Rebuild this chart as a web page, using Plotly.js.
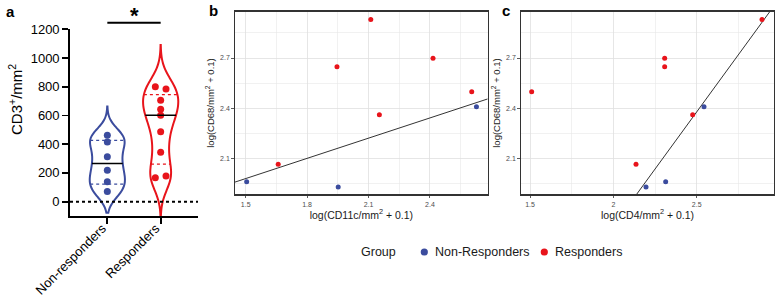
<!DOCTYPE html>
<html>
<head>
<meta charset="utf-8">
<script src="https://cdn.plot.ly/plotly-3.0.1.min.js"></script>
<style>html,body{margin:0;padding:0;background:#fff;}#chart{width:775px;height:299px;}</style>
</head>
<body>
<div id="chart"></div>
<script>
// ---------- DATA ----------
const groupCats = ['Non-responders', 'Responders'];
const nrCD3 = [462, 415, 313, 218, 139, 70];
const rCD3 = [800, 784, 706, 643, 601, 487, 344, 179, 167];
const nrJitter = [0, 0, 0, 0, 0, 0];
const rJitter = [-0.1, 0.1, 0, 0, 0, 0, 0, 0.1, -0.1];
const nrBandwidth = 70, rBandwidth = 100;
const nrSpan = [-77, 662], rSpan = [-150, 1090];
const sigLabel = '*';
const yTitleA = 'CD3<sup>+</sup>/mm<sup>2</sup>';

const legendNames = ['Non-Responders', 'Responders'];
const rCD11c = [2.111, 2.415, 1.946, 2.604, 2.153, 1.659];
const rCD4 = [2.892, 2.308, 2.308, 1.510, 2.476, 2.136];
const rCD68 = [2.931, 2.698, 2.648, 2.499, 2.360, 2.064];
const nrCD11c = [2.627, 1.505, 1.952];
const nrCD4 = [2.544, 2.314, 2.196];
const nrCD68 = [2.408, 1.960, 1.928];
const fitB = {slope: 0.403, intercept: 1.3745};
const fitC = {slope: 1.367, intercept: -1.040};

// ---------- STYLE ----------
const W = 775, H = 299;
const px = x => x / W, py = y => 1 - y / H;
const BLUE = '#3B4C9E', RED = '#E8141B';
const FONT = 'Liberation Sans, Arial, sans-serif';
const NARROW = 'Liberation Sans Narrow, Liberation Sans, Arial, sans-serif';
const violinWidth = 0.66;

function quartiles(v) {
  const s = v.slice().sort((a, b) => a - b), n = s.length;
  const q = p => { const pos = p * (n + 1) - 1; const lo = Math.floor(pos), f = pos - lo;
    return lo + 1 < n ? s[lo] + f * (s[lo + 1] - s[lo]) : s[lo]; };
  return [q(0.25), q(0.5), q(0.75)];
}
function kde(v, bw) { return y => v.reduce((a, xi) => a + Math.exp(-0.5 * Math.pow((y - xi) / bw, 2)), 0); }
function halfWidthAt(v, bw, span, y) {
  const d = kde(v, bw); let mx = 0;
  for (let i = 0; i <= 400; i++) { mx = Math.max(mx, d(span[0] + (span[1] - span[0]) * i / 400)); }
  return violinWidth / 2 * d(y) / mx;
}

const traces = [];
const shapes = [];
[[nrCD3, BLUE, 0, nrBandwidth, nrSpan, nrJitter], [rCD3, RED, 1, rBandwidth, rSpan, rJitter]].forEach(([vals, col, pos, bw, span, jit]) => {
  traces.push({type: 'violin', y: vals, x0: pos, xaxis: 'x', yaxis: 'y', bandwidth: bw,
    spanmode: 'manual', span: span, width: violinWidth, scalemode: 'width', points: false,
    line: {color: col, width: 2}, fillcolor: 'rgba(0,0,0,0)', box: {visible: false},
    meanline: {visible: false}, showlegend: false, hoverinfo: 'skip'});
  traces.push({type: 'scatter', mode: 'markers', x: vals.map((v, i) => pos + jit[i]), y: vals,
    xaxis: 'x', yaxis: 'y', marker: {color: col, size: 7}, showlegend: false, hoverinfo: 'skip'});
  const qs = quartiles(vals);
  qs.forEach((q, k) => {
    const hw = halfWidthAt(vals, bw, span, q);
    shapes.push({type: 'line', xref: 'x', yref: 'y', x0: pos - hw, x1: pos + hw, y0: q, y1: q,
      line: k === 1 ? {color: '#000', width: 1.5} : {color: col, width: 1.2, dash: 'dot'}});
  });
});
// zero line
shapes.push({type: 'line', xref: 'x domain', yref: 'y', x0: 0, x1: 1, y0: 0, y1: 0,
  line: {color: '#000', width: 2, dash: 'dot'}});
// significance bar
shapes.push({type: 'line', xref: 'x', yref: 'paper', x0: 0, x1: 1, y0: py(22.7), y1: py(22.7),
  line: {color: '#000', width: 2}});

// scatter panels
const scatterPanels = [
  {xa: 'x2', ya: 'y2', rx: rCD11c, nx: nrCD11c, fit: fitB},
  {xa: 'x3', ya: 'y3', rx: rCD4, nx: nrCD4, fit: fitC}
];
const xRanges = {x2: [1.448, 2.682], x3: [1.446, 2.964]};
scatterPanels.forEach(p => {
  const xr = xRanges[p.xa];
  traces.push({type: 'scatter', mode: 'lines', x: xr, y: xr.map(x => p.fit.intercept + p.fit.slope * x),
    xaxis: p.xa, yaxis: p.ya, line: {color: '#333', width: 1}, showlegend: false, hoverinfo: 'skip'});
  traces.push({type: 'scatter', mode: 'markers', x: p.nx, y: nrCD68, xaxis: p.xa, yaxis: p.ya,
    marker: {color: BLUE, size: 5}, showlegend: false, hoverinfo: 'skip'});
  traces.push({type: 'scatter', mode: 'markers', x: p.rx, y: rCD68, xaxis: p.xa, yaxis: p.ya,
    marker: {color: RED, size: 5}, showlegend: false, hoverinfo: 'skip'});
});

// manual legend markers
[[424.3, BLUE], [544.3, RED]].forEach(([cx, col]) => {
  shapes.push({type: 'circle', xref: 'paper', yref: 'paper', xsizemode: 'pixel', ysizemode: 'pixel',
    xanchor: px(cx), yanchor: py(252), x0: -3.6, x1: 3.6, y0: -3.6, y1: 3.6,
    fillcolor: col, line: {width: 0}});
});

const scatAxisX = (dom, range, tick0, dtick, title) => ({
  domain: dom, range: range, tick0: tick0, dtick: dtick, showline: true, mirror: true,
  linecolor: '#333', linewidth: 1.3, ticks: 'outside', ticklen: 2.5, tickwidth: 0.8, tickcolor: '#333',
  tickfont: {size: 7, color: '#4d4d4d', family: FONT}, showgrid: true, gridcolor: '#e0e0e0', gridwidth: 0.8,
  minor: {dtick: dtick / 2, showgrid: true, gridcolor: '#e8e8e8', gridwidth: 0.6},
  zeroline: false, fixedrange: true,
  title: {text: title, font: {size: 10.5, family: FONT, color: '#1a1a1a'}, standoff: 0}
});
const scatAxisY = (anchor, title) => ({
  anchor: anchor, domain: [py(194.3), py(11.7)], range: [1.885, 2.977], tick0: 1.5, dtick: 0.3,
  showline: true, mirror: true, linecolor: '#333', linewidth: 1.3, ticks: 'outside', ticklen: 2.5,
  tickwidth: 0.8, tickcolor: '#333', tickfont: {size: 7, color: '#4d4d4d', family: FONT},
  showgrid: true, gridcolor: '#e0e0e0', gridwidth: 0.8,
  minor: {dtick: 0.15, showgrid: true, gridcolor: '#e8e8e8', gridwidth: 0.6},
  zeroline: false, fixedrange: true,
  title: {text: title, font: {size: 9.5, family: NARROW, color: '#1a1a1a'}, standoff: 3}
});

const layout = {
  width: W, height: H, margin: {l: 0, r: 0, t: 0, b: 0}, paper_bgcolor: '#fff', plot_bgcolor: 'rgba(0,0,0,0)',
  font: {family: FONT, color: '#000'}, showlegend: false, violinmode: 'overlay',
  xaxis: {domain: [px(70), px(198)], range: [-0.7, 1.7], tickvals: [0, 1], ticktext: groupCats,
    tickangle: -45, ticks: 'outside', ticklen: 6, tickwidth: 1.8, tickcolor: '#000', showline: true,
    linewidth: 1.8, linecolor: '#000', showgrid: false, zeroline: false, tickfont: {size: 13, color: '#000'},
    ticklabelshift: -5, ticklabelstandoff: -8,
    fixedrange: true, anchor: 'y'},
  yaxis: {domain: [py(216), py(29.3)], range: [-100, 1200], tickvals: [0, 200, 400, 600, 800, 1000, 1200],
    ticks: 'outside', ticklen: 6, tickwidth: 1.8, tickcolor: '#000', showline: true, linewidth: 1.8,
    linecolor: '#000', showgrid: false, zeroline: false, tickfont: {size: 13, color: '#000'}, fixedrange: true,
    anchor: 'x'},
  xaxis2: Object.assign(scatAxisX([px(235), px(487.7)], xRanges.x2, 1.5, 0.3, 'log(CD11c/mm<sup>2</sup> + 0.1)'), {anchor: 'y2'}),
  yaxis2: scatAxisY('x2', 'log(CD68/mm<sup>2</sup> + 0.1)'),
  xaxis3: Object.assign(scatAxisX([px(521), px(774)], xRanges.x3, 1.5, 0.5, 'log(CD4/mm<sup>2</sup> + 0.1)'), {anchor: 'y3'}),
  yaxis3: scatAxisY('x3', 'log(CD68/mm<sup>2</sup> + 0.1)'),
  shapes: shapes,
  annotations: [
    {text: yTitleA, xref: 'paper', yref: 'paper', x: px(15), y: py(100), textangle: -90, xanchor: 'center', yanchor: 'middle', showarrow: false, font: {size: 15, color: '#000'}},
    {text: '<b>a</b>', xref: 'paper', yref: 'paper', x: px(4), y: py(1), xanchor: 'left', yanchor: 'top', showarrow: false, font: {size: 15}},
    {text: '<b>b</b>', xref: 'paper', yref: 'paper', x: px(207), y: py(0), xanchor: 'left', yanchor: 'top', showarrow: false, font: {size: 15}},
    {text: '<b>c</b>', xref: 'paper', yref: 'paper', x: px(500), y: py(0), xanchor: 'left', yanchor: 'top', showarrow: false, font: {size: 15}},
    {text: '<b>' + sigLabel + '</b>', xref: 'x', yref: 'paper', x: 0.5, y: py(1), xanchor: 'center', yanchor: 'top', showarrow: false, font: {size: 22}},
    {text: 'Group', xref: 'paper', yref: 'paper', x: px(359), y: py(252), xanchor: 'left', yanchor: 'middle', showarrow: false, font: {size: 12.5, color: '#1a1a1a'}},
    {text: legendNames[0], xref: 'paper', yref: 'paper', x: px(433), y: py(252), xanchor: 'left', yanchor: 'middle', showarrow: false, font: {size: 12.5, color: '#1a1a1a'}},
    {text: legendNames[1], xref: 'paper', yref: 'paper', x: px(552.5), y: py(252), xanchor: 'left', yanchor: 'middle', showarrow: false, font: {size: 12.5, color: '#1a1a1a'}}
  ]
};

Plotly.newPlot('chart', traces, layout, {displayModeBar: false, staticPlot: true});
</script>
</body>
</html>
